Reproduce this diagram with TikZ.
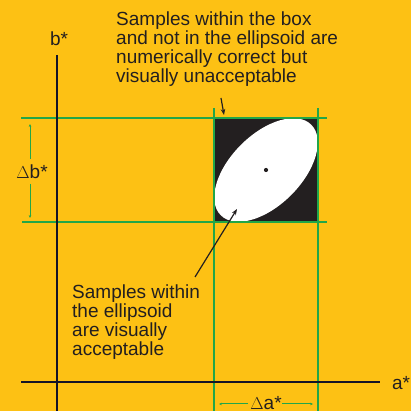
\documentclass[tikz,border=0pt]{standalone}
\usepackage{fontspec}
\setmainfont{Liberation Sans}
\usetikzlibrary{arrows.meta}
\definecolor{bgyellow}{RGB}{253,193,20}
\definecolor{grn}{RGB}{34,166,72}
\definecolor{ink}{RGB}{35,31,32}
\definecolor{axis}{RGB}{20,20,40}
\tikzset{
  every node/.style={inner sep=0pt, text=ink, font=\fontsize{19}{18.8}\selectfont},
  gline/.style={draw=grn, line width=1.3pt},
  axline/.style={draw=axis, line width=1.5pt},
  garrow/.style={draw=grn, line width=1pt, -{Stealth[length=3pt,width=2.6pt]}},
  barrow/.style={draw=ink, line width=1.2pt, -{Stealth[length=6pt,width=4.5pt]}},
  txt/.style={align=left, anchor=north west}
}
\begin{document}
\begin{tikzpicture}[x=1pt,y=1pt]
\fill[bgyellow] (0,0) rectangle (411,411);
\useasboundingbox (0,0) rectangle (411,411);
% box
\node[fill=ink, minimum width=104pt, minimum height=104pt] (box) at (266,241) {};
\fill[white, rotate around={45:(box.center)}] (box.center) ellipse [x radius=64, y radius=35.5];
\fill[ink] (box.center) circle (2.1);
% green lines
\coordinate (gtl) at (21,293);
\coordinate (gtr) at (327,293);
\coordinate (gbl) at (22,189);
\coordinate (gbr) at (327,189);
\coordinate (gvl1) at (214,303);
\coordinate (gvl2) at (214,0);
\coordinate (gvr1) at (318,303);
\coordinate (gvr2) at (318,0);
\draw[gline] (gtl) -- (gtr);
\draw[gline] (gbl) -- (gbr);
\draw[gline] (gvl1) -- (gvl2);
\draw[gline] (gvr1) -- (gvr2);
% axes
\coordinate (bt) at (57,356);
\coordinate (bb) at (57,0);
\coordinate (al) at (21,29);
\coordinate (ar) at (380,29);
\draw[axline] (bt) -- (bb);
\draw[axline] (al) -- (ar);
\node (blab) at (59,372) {b*};
\node (alab) at (401,28) {a*};
% delta b
\node (db) at (32,239) {$\Delta$b*};
\coordinate (db1) at (30,252);
\coordinate (db1t) at (30,287);
\coordinate (db2) at (30,227);
\coordinate (db2t) at (30,193);
\draw[garrow] (db1) -- (db1t);
\draw[garrow] (db2) -- (db2t);
% delta a
\node (da) at (266,7.5) {$\Delta$a*};
\coordinate (da1) at (248,7);
\coordinate (da1t) at (219,7);
\coordinate (da2) at (282,7);
\coordinate (da2t) at (313,7);
\draw[garrow] (da1) -- (da1t);
\draw[garrow] (da2) -- (da2t);
% texts
\node[txt] (t1) at (116,399) {Samples within the box\\and not in the ellipsoid are\\numerically correct but\\visually unacceptable};
\node[txt] (t2) at (72,126) {Samples within\\the ellipsoid\\are visually\\acceptable};
\coordinate (a1s) at (221,313);
\coordinate (a1e) at (224,296);
\draw[barrow] (a1s) -- (a1e);
\coordinate (a2s) at (195,134);
\coordinate (a2e) at (237,202);
\draw[barrow] (a2s) -- (a2e);
\end{tikzpicture}
\end{document}
